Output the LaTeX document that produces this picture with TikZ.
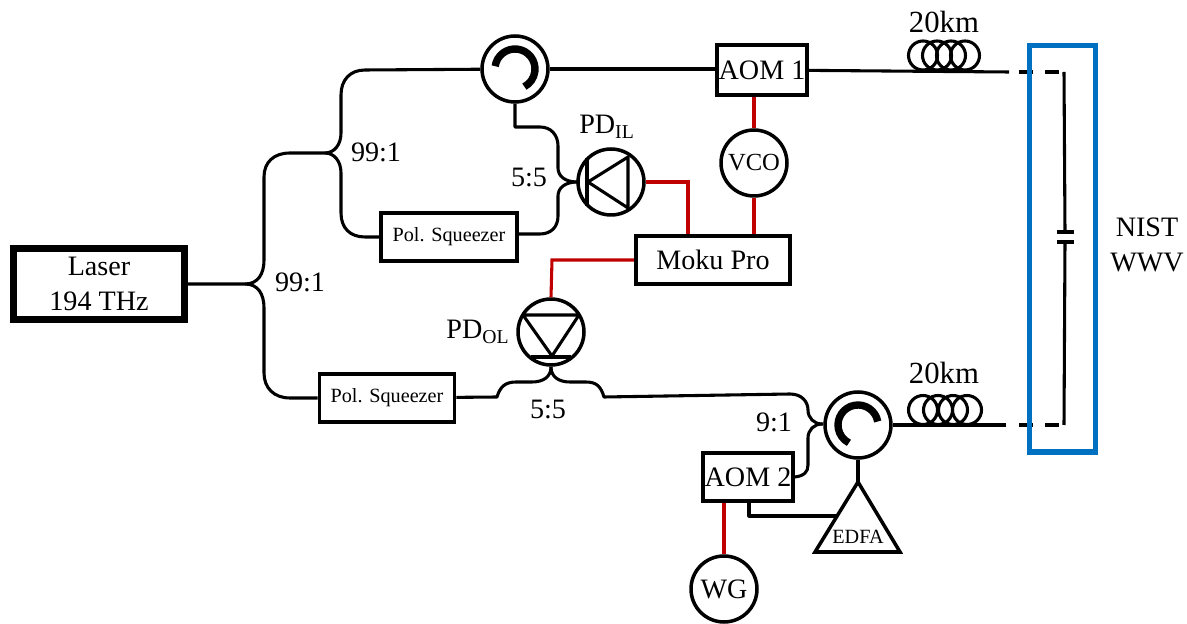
\documentclass[tikz,border=0pt]{standalone}
\usepackage{fontspec}
\setmainfont{Liberation Serif}
\definecolor{wire}{HTML}{C00000}
\definecolor{wwvblue}{HTML}{0070C0}
\tikzset{
	fiber/.style={line width=1.75pt, line join=round},
	elec/.style={line width=1.75pt, color=wire},
	devbox/.style={draw, line width=2.2pt, rectangle, inner sep=0pt, font=\fontsize{16}{20}\selectfont},
	devcirc/.style={draw, line width=2pt, circle, inner sep=0pt, minimum size=1.32cm, font=\fontsize{16}{20}\selectfont},
	lbl/.style={inner sep=0pt, font=\fontsize{16}{20}\selectfont},
	small/.style={font=\fontsize{11.5}{14}\selectfont},
	circarrow/.style={line width=4.2pt}
}
\begin{document}
\begin{tikzpicture}[x=0.02cm, y=0.02cm]
	\useasboundingbox (0,-624) rectangle (1187,0);

	\node[devbox, line width=3.8pt, minimum width=3.42cm, minimum height=1.42cm, align=center] (laser) at (99,-284) {Laser\\194 THz};
	\node[devbox, small, minimum width=2.73cm, minimum height=0.95cm] (polA) at (449,-237) {Pol. Squeezer};
	\node[devbox, small, minimum width=2.7cm, minimum height=0.95cm] (polB) at (387,-398) {Pol. Squeezer};
	\node[devbox, minimum width=1.81cm, minimum height=0.99cm] (aomA) at (762,-70) {AOM 1};
	\node[devbox, minimum width=1.79cm, minimum height=0.95cm] (aomB) at (748,-477) {AOM 2};
	\node[devbox, minimum width=3.09cm, minimum height=0.97cm] (moku) at (713,-260) {Moku Pro};

	\node[devcirc] (circA) at (515,-69) {};
	\node[devcirc] (circB) at (858,-425) {};
	\node[devcirc] (pdil) at (611,-182) {};
	\node[devcirc] (pdol) at (551,-332) {};
	\node[devcirc, font=\fontsize{14}{17}\selectfont] (vco) at (754,-163) {VCO};
	\node[devcirc] (wg) at (724,-589) {WG};
	\coordinate (edfaTop) at (858,-482);
	\coordinate (edfaL) at (815,-552);
	\coordinate (edfaR) at (900,-552);
	\draw[line width=2pt, line join=miter] (edfaTop) -- (edfaL) -- (edfaR) -- cycle;
	\node[inner sep=0pt, small] (edfa) at (858,-537) {EDFA};

	% splitter points
	\coordinate (splitA) at (245,-284);
	\coordinate (splitB) at (325,-153);
	\coordinate (splitC) at (577,-182);
	\coordinate (splitD) at (551,-367);
	\coordinate (splitE) at (822,-424);

	% fiber
	\draw[fiber] (laser) -- (splitA) .. controls (258,-284) and (264,-274) .. (264,-260) -- (264,-177) .. controls (264,-162) and (274,-153) .. (290,-153) -- (splitB);
	\draw[fiber] (splitA) .. controls (258,-284) and (264,-294) .. (264,-308) -- (264,-373) .. controls (264,-388) and (274,-398) .. (290,-398) -- (polB);
	\draw[fiber] (splitB) .. controls (334,-153) and (341,-145) .. (341,-133) -- (341,-95) .. controls (341,-80) and (350,-70) .. (365,-70) -- (circA);
	\draw[fiber] (splitB) .. controls (334,-153) and (341,-161) .. (341,-173) -- (341,-213) .. controls (341,-228) and (350,-237) .. (365,-237) -- (polA);
	\draw[fiber] (circA) -- (aomA.west |- circA);
	\draw[fiber] (circA) -- (515,-127) -- (540,-127) .. controls (551,-127) and (558,-135) .. (558,-146) -- (558,-168) .. controls (558,-176) and (565,-182) .. (splitC) -- (pdil);
	\draw[fiber] (polA.east |- 0,-234) -- (540,-234) .. controls (551,-234) and (558,-227) .. (558,-216) -- (558,-196) .. controls (558,-188) and (565,-182) .. (splitC);
	\draw[fiber] (polB) -- (497,-397) .. controls (500,-387) and (505,-382) .. (516,-382) -- (532,-382) .. controls (543,-382) and (551,-377) .. (splitD) -- (pdol);
	\draw[fiber] (splitD) .. controls (551,-377) and (559,-382) .. (570,-382) -- (586,-382) .. controls (597,-382) and (601,-387) .. (604,-397) -- (790,-394) .. controls (802,-394) and (808,-402) .. (808,-410) .. controls (808,-418) and (814,-424) .. (splitE) -- (circB);
	\draw[fiber] (splitE) .. controls (814,-424) and (808,-430) .. (808,-438) -- (808,-465) .. controls (808,-472) and (804,-476) .. (aomB.east);
	\draw[fiber] (circB) -- (edfaTop);
	\draw[fiber] (749,-503) -- (749,-516) -- (837,-516);

	% circulator arrows
	\draw[circarrow] (circA.center) ++(172:20) arc (172:-62:20);
	\draw[circarrow] (circB.center) ++(10:20) arc (10:243:20);

	% diodes
	\draw[line width=1.75pt, line join=round] (588,-182) -- (628,-157) -- (628,-208) -- cycle;
	\draw[line width=1.75pt] (587,-158) -- (587,-206);
	\draw[line width=1.75pt, line join=round] (523,-315) -- (579,-315) -- (552,-356) -- cycle;
	\draw[line width=1.75pt] (531,-357) -- (571,-357);

	% electrical
	\draw[elec] (aomA.south -| vco) -- (vco);
	\draw[elec] (vco) -- (moku.north -| vco);
	\draw[elec] (pdil) -- (688,-182) -- (moku.north -| 688,-182);
	\draw[elec] (moku.west) -- (552,-260) -- (pdol.north);
	\draw[elec] (aomB.south -| wg) -- (wg);

	% long fibers
	\coordinate (wwvT) at (1064,-72);
	\coordinate (wwvB) at (1064,-425);
	\coordinate (plateA) at (1065,-232);
	\coordinate (plateB) at (1065,-242);
	\coordinate (endA) at (1009,-72);
	\coordinate (endB) at (1006,-425);
	\draw[fiber] (aomA) -- (endA);
	\draw[fiber] (circB) -- (endB);
	\foreach \cx in {923,937,951,965} \draw[fiber] (\cx,-55.5) circle (14.5);
	\foreach \cx in {923,938,953,967} \draw[fiber] (\cx,-410) circle (14.5);
	\draw[fiber, dash pattern=on 0.28cm off 0.24cm] (1019,-72) -- (wwvT);
	\draw[fiber, dash pattern=on 0.28cm off 0.24cm] (1019,-425) -- (wwvB);

	% antenna
	\draw[fiber] (wwvT) -- (plateA);
	\draw[fiber] (plateB) -- (wwvB);
	\draw[fiber] (1057,-232) -- (1074,-232);
	\draw[fiber] (1057,-242) -- (1074,-242);
	\draw[line width=2.9pt, color=wwvblue] (1029.5,-45.5) rectangle (1095.5,-452);

	% labels
	\node[lbl, font=\fontsize{17.5}{21}\selectfont] (kmA) at (944,-22) {20km};
	\node[lbl, font=\fontsize{17.5}{21}\selectfont] (kmB) at (944,-373) {20km};
	\node[lbl, align=center] (wwv) at (1147,-245) {NIST\\WWV};
	\node[lbl] (ratioA) at (376,-152) {99:1};
	\node[lbl] (ratioB) at (300,-282) {99:1};
	\node[lbl] (ratioC) at (529,-177) {5:5};
	\node[lbl] (ratioD) at (548,-409) {5:5};
	\node[lbl] (ratioE) at (774,-422) {9:1};
	\node[lbl] (pdilLbl) at (607,-127) {PD\textsubscript{IL}};
	\node[lbl] (pdolLbl) at (478,-332) {PD\textsubscript{OL}};
\end{tikzpicture}
\end{document}
